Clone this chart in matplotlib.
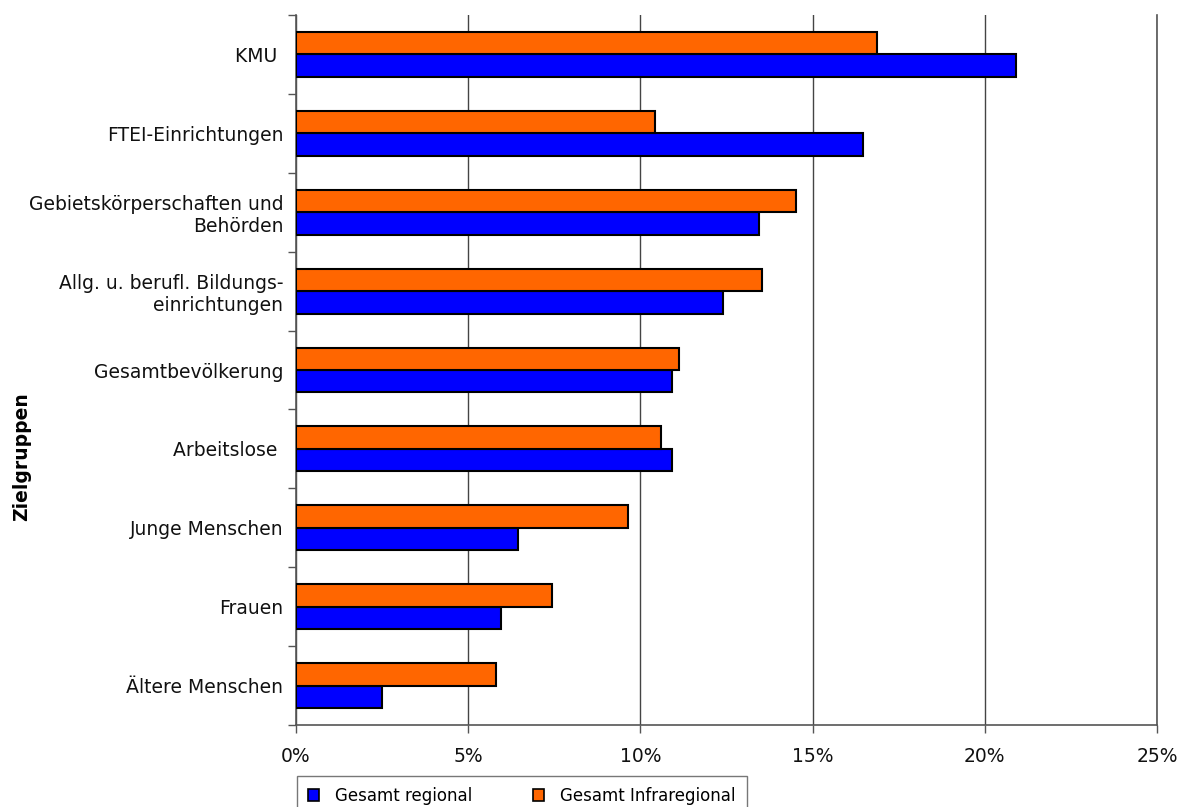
import numpy as np
import matplotlib.pyplot as plt
from matplotlib.patches import Patch
from matplotlib.ticker import FixedLocator, PercentFormatter

# Zielgruppen, von oben nach unten
categories = ['KMU ', 'FTEI-Einrichtungen', 'Gebietskörperschaften und\nBehörden',
              'Allg. u. berufl. Bildungs-\neinrichtungen', 'Gesamtbevölkerung',
              'Arbeitslose ', 'Junge Menschen', 'Frauen', 'Ältere Menschen']
regional = [20.9, 16.45, 13.45, 12.4, 10.93, 10.93, 6.46, 5.95, 2.49]
infraregional = [16.86, 10.42, 14.52, 13.53, 11.12, 10.61, 9.64, 7.43, 5.82]
x_ticks = [0, 5, 10, 15, 20, 25]

blue = '#0000ff'
orange = '#ff6600'

fig = plt.figure(figsize=(11.79, 8.07), dpi=100)
ax = fig.add_axes([296/1179, 82/807, 861/1179, 710/807])

y = np.arange(len(categories))
h = 0.285
ax.barh(y + h/2, regional, height=h, color=blue, edgecolor='black', linewidth=1.5, zorder=3)
ax.barh(y - h/2, infraregional, height=h, color=orange, edgecolor='black', linewidth=1.5, zorder=3)

ax.set_ylim(len(categories) - 0.5, -0.5)
ax.set_xlim(0, 25)

# y-Achse: Striche zwischen den Kategorien, Beschriftung in der Mitte
ax.yaxis.set_major_locator(FixedLocator(np.arange(-0.5, len(categories), 1)))
ax.yaxis.set_minor_locator(FixedLocator(y))
ax.set_yticklabels([], minor=False)
ax.set_yticklabels(categories, minor=True, fontsize=13.5, color='#111111')
ax.tick_params(axis='y', which='major', length=6, width=1, color='#555555', direction='out')
ax.tick_params(axis='y', which='minor', length=0, pad=9)

ax.set_xticks(x_ticks)
ax.xaxis.set_major_formatter(PercentFormatter(decimals=0))
ax.tick_params(axis='x', which='major', length=6, width=1, color='#555555', labelsize=13.5,
               labelcolor='#111111', pad=10)

ax.grid(axis='x', color='#444444', linewidth=1, zorder=0)
ax.spines['top'].set_visible(False)
for side in ['left', 'bottom', 'right']:
    ax.spines[side].set_color('#555555')
    ax.spines[side].set_linewidth(1.2)

fig.text(22/1179, (807-457)/807, 'Zielgruppen', rotation=90, fontsize=13.5,
         fontweight='bold', ha='center', va='center')

handles = [Patch(facecolor=blue, edgecolor='black', linewidth=1.2, label='Gesamt regional'),
           Patch(facecolor=orange, edgecolor='black', linewidth=1.2, label='Gesamt Infraregional')]
leg = fig.legend(handles=handles, loc='upper left', bbox_to_anchor=(297/1179, (807-776)/807),
                 ncol=2, fontsize=12, frameon=True, fancybox=False, handlelength=0.66,
                 handleheight=0.66, handletextpad=1.0, columnspacing=3.6, borderpad=0.65,
                 borderaxespad=0)
leg.get_frame().set_edgecolor('#555555')
leg.get_frame().set_linewidth(1)

fig.savefig('out.png', dpi=100)
